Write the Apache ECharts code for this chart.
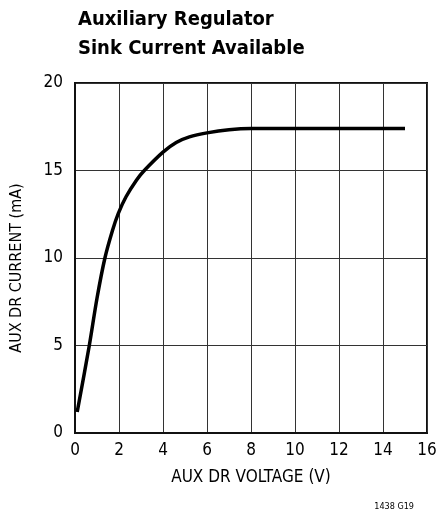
<!DOCTYPE html>
<html>
<head>
<meta charset="utf-8">
<script src="https://cdn.jsdelivr.net/npm/echarts@6/dist/echarts.min.js"></script>
<style>
  html, body { margin: 0; padding: 0; background: #fff; }
  #chart { width: 439px; height: 517px; }
</style>
</head>
<body>
<div id="chart"></div>
<script>
// Sink current (mA) versus AUX DR pin voltage (V)
const voltage = [0.1, 0.65, 1.0, 1.36, 1.71, 1.97, 2.32, 2.8, 3.15, 4.0, 4.6, 5.2, 6.0, 7.0, 8.0, 15.0];
const current = [1.2, 5.0, 7.7, 10.0, 11.6, 12.55, 13.5, 14.46, 15.0, 16.05, 16.6, 16.92, 17.15, 17.33, 17.4, 17.4];
const xTicks = [0, 2, 4, 6, 8, 10, 12, 14, 16];
const yTicks = [0, 5, 10, 15, 20];

const FONT = '"Liberation Sans Narrow", "DejaVu Sans Condensed", "Liberation Sans", sans-serif';

const chart = echarts.init(document.getElementById('chart'), null, { renderer: 'canvas' });
chart.setOption({
  animation: false,
  backgroundColor: '#ffffff',
  title: {
    text: 'Auxiliary Regulator\nSink Current Available',
    left: 73,
    top: 0,
    textStyle: {
      fontFamily: FONT,
      fontWeight: 'bold',
      fontSize: 20,
      lineHeight: 29,
      color: '#000'
    }
  },
  graphic: [{
    type: 'text',
    right: 25,
    top: 502,
    style: { text: '1438 G19', fontFamily: FONT, fontSize: 9, fill: '#000' }
  }],
  grid: {
    left: 75, right: 12, top: 83, bottom: 84,
    outerBoundsMode: 'none',
    containLabel: false,
    show: true,
    borderColor: '#111',
    borderWidth: 2,
    backgroundColor: 'transparent'
  },
  xAxis: {
    type: 'value',
    min: xTicks[0],
    max: xTicks[xTicks.length - 1],
    interval: xTicks[1] - xTicks[0],
    name: 'AUX DR VOLTAGE (V)',
    nameLocation: 'middle',
    nameGap: 36,
    nameTextStyle: { fontFamily: FONT, fontSize: 17, color: '#000' },
    axisLine: { show: true, lineStyle: { color: '#111', width: 2 } },
    axisTick: { show: false },
    axisLabel: { margin: 9, fontFamily: FONT, fontSize: 17, color: '#000' },
    splitLine: { show: true, lineStyle: { color: '#333', width: 1 } }
  },
  yAxis: {
    type: 'value',
    min: yTicks[0],
    max: yTicks[yTicks.length - 1],
    interval: yTicks[1] - yTicks[0],
    name: 'AUX DR CURRENT (mA)',
    nameLocation: 'middle',
    nameGap: 50,
    nameTextStyle: { fontFamily: FONT, fontSize: 16, color: '#000', padding: [0, 20, 0, 0] },
    axisLine: { show: true, lineStyle: { color: '#111', width: 2 } },
    axisTick: { show: false },
    axisLabel: { margin: 12, fontFamily: FONT, fontSize: 17, color: '#000' },
    splitLine: { show: true, lineStyle: { color: '#333', width: 1 } }
  },
  series: [{
    type: 'line',
    data: voltage.map((v, i) => [v, current[i]]),
    smooth: 0.3,
    showSymbol: false,
    lineStyle: { color: '#000', width: 3.5 }
  }]
});
</script>
</body>
</html>
